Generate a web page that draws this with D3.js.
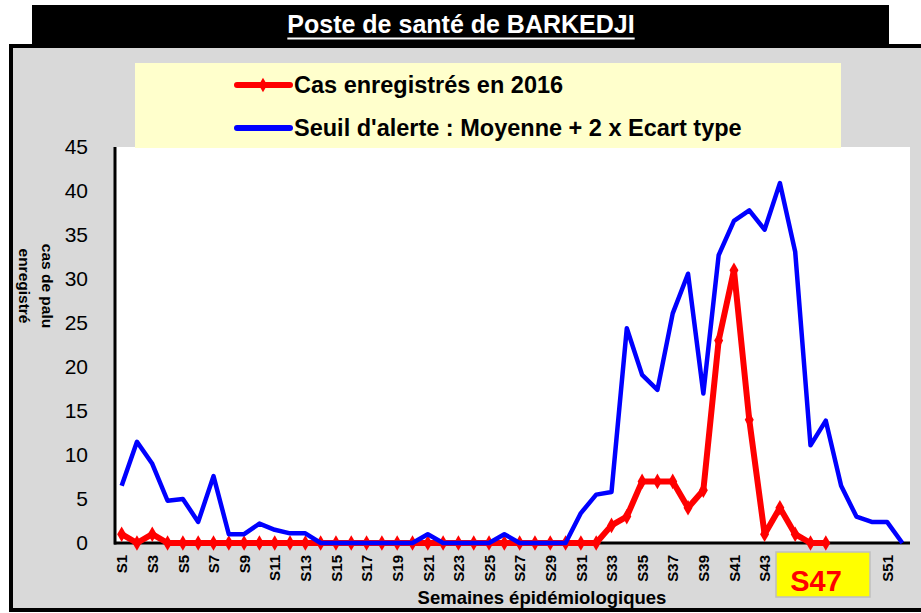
<!DOCTYPE html>
<html>
<head>
<meta charset="utf-8">
<script src="https://cdn.jsdelivr.net/npm/d3@7"></script>
<style>
  body { margin: 0; background: #fff; overflow: hidden; }
  svg { display: block; }
</style>
</head>
<body>
<div id="plot"></div>
<script>
  var semaines = d3.range(1, 53).map(function(i) { return "S" + i; });

  // Seuil d'alerte : Moyenne + 2 x Ecart type (S1..S52)
  var seuil = [6.5, 11.5, 9.0, 4.8, 5.0, 2.4, 7.6, 1.0, 1.0, 2.2, 1.5, 1.1, 1.1,
    0, 0, 0, 0, 0, 0, 0, 1.0, 0, 0, 0, 0, 1.0, 0, 0, 0, 0,
    3.4, 5.5, 5.8, 24.4, 19.1, 17.4, 26.1, 30.6, 17.0, 32.7, 36.6, 37.8, 35.6,
    40.9, 33.1, 11.1, 13.9, 6.5, 3.0, 2.4, 2.4, 0];

  // Cas enregistrés en 2016 (S1..S47)
  var cas2016 = [1, 0, 1, 0, 0, 0, 0, 0, 0, 0, 0, 0, 0, 0, 0, 0, 0, 0, 0, 0,
    0, 0, 0, 0, 0, 0, 0, 0, 0, 0, 0, 0,
    2, 3, 7, 7, 7, 4, 6, 23, 31, 14, 1, 4, 1, 0, 0];

  var yTicks = [0, 5, 10, 15, 20, 25, 30, 35, 40, 45];
  var xLabels = semaines.filter(function(d, i) { return i % 2 === 0; });
  var semaineCourante = "S47";

  var W = 921, H = 613;
  var plot = {left: 114, right: 910, top: 147, bottom: 543};
  var narrow = "'Liberation Sans Narrow', 'Arial Narrow', 'Liberation Sans', sans-serif";

  var svg = d3.select("#plot").append("svg")
    .attr("width", W).attr("height", H);

  // cadre gris
  svg.append("rect")
    .attr("x", 11).attr("y", 46).attr("width", 1000).attr("height", 564)
    .style("fill", "#d9d9d9").style("stroke", "#000").style("stroke-width", 4);

  // bandeau titre
  svg.append("rect")
    .attr("x", 32).attr("y", 5).attr("width", 857).attr("height", 41)
    .style("fill", "#000");
  var titre = svg.append("text")
    .attr("x", 461).attr("y", 33)
    .attr("text-anchor", "middle")
    .style("font-family", narrow).style("font-weight", "bold")
    .style("font-size", "25px").style("fill", "#fff")
    .text("Poste de santé de BARKEDJI");
  var tw = titre.node().getComputedTextLength();
  svg.append("line")
    .attr("x1", 461 - tw / 2).attr("x2", 461 + tw / 2)
    .attr("y1", 38.5).attr("y2", 38.5)
    .style("stroke", "#fff").style("stroke-width", 2);

  // zone de tracé
  svg.append("rect")
    .attr("x", plot.left).attr("y", plot.top)
    .attr("width", plot.right - plot.left).attr("height", plot.bottom - plot.top)
    .style("fill", "#fff");

  var x = d3.scalePoint().domain(semaines).range([plot.left, plot.right]).padding(0.5);
  var y = d3.scaleLinear().domain([0, 45]).range([plot.bottom, plot.top]);

  var yAxis = d3.axisLeft(y).tickValues(yTicks).tickSize(0).tickPadding(26);
  var gy = svg.append("g").attr("transform", "translate(" + plot.left + ",0)").call(yAxis);
  gy.select(".domain").remove();
  gy.selectAll("text")
    .style("font-family", "'Liberation Sans', sans-serif")
    .style("font-size", "21px").style("fill", "#000");

  var xAxis = d3.axisBottom(x).tickValues(xLabels).tickSize(0);
  var gx = svg.append("g").attr("transform", "translate(0," + plot.bottom + ")").call(xAxis);
  gx.select(".domain").remove();
  gx.selectAll("text")
    .attr("transform", "rotate(-90)")
    .attr("x", -12).attr("y", 0).attr("dy", "0.35em")
    .style("text-anchor", "end")
    .style("font-family", narrow).style("font-weight", "bold")
    .style("font-size", "15px").style("fill", "#000");

  // axes
  svg.append("line")
    .attr("x1", plot.left + 1).attr("x2", plot.left + 1)
    .attr("y1", plot.top).attr("y2", plot.bottom + 1.5)
    .style("stroke", "#000").style("stroke-width", 3);
  svg.append("line")
    .attr("x1", plot.left).attr("x2", plot.right)
    .attr("y1", plot.bottom).attr("y2", plot.bottom)
    .style("stroke", "#000").style("stroke-width", 3);

  // séries
  var line = d3.line()
    .defined(function(d) { return d != null; })
    .x(function(d, i) { return x(semaines[i]); })
    .y(function(d) { return y(d); });

  svg.append("path").datum(cas2016)
    .attr("d", line)
    .style("fill", "none").style("stroke", "#ff0000")
    .style("stroke-width", 6).style("stroke-linejoin", "round");
  svg.selectAll(".pt").data(cas2016).enter().append("path")
    .attr("class", "pt")
    .attr("transform", function(d, i) { return "translate(" + x(semaines[i]) + "," + y(d) + ")"; })
    .attr("d", d3.symbol().type(d3.symbolDiamond).size(70))
    .style("fill", "#ff0000");

  svg.append("path").datum(seuil)
    .attr("d", line)
    .style("fill", "none").style("stroke", "#0000ff")
    .style("stroke-width", 4.5).style("stroke-linejoin", "round");

  // légende
  svg.append("rect")
    .attr("x", 135).attr("y", 63).attr("width", 706).attr("height", 85)
    .style("fill", "#ffffcc");
  var legende = [
    {label: "Cas enregistrés en 2016", color: "#ff0000", marker: true, y: 85},
    {label: "Seuil d'alerte : Moyenne + 2 x Ecart type", color: "#0000ff", marker: false, y: 128}
  ];
  var lg = svg.selectAll(".leg").data(legende).enter().append("g").attr("class", "leg");
  lg.append("line")
    .attr("x1", 237).attr("x2", 290)
    .attr("y1", function(d) { return d.y; }).attr("y2", function(d) { return d.y; })
    .style("stroke", function(d) { return d.color; })
    .style("stroke-width", 6).style("stroke-linecap", "round");
  lg.filter(function(d) { return d.marker; }).append("path")
    .attr("transform", function(d) { return "translate(263," + d.y + ")"; })
    .attr("d", d3.symbol().type(d3.symbolDiamond).size(60))
    .style("fill", function(d) { return d.color; });
  lg.append("text")
    .attr("x", 294).attr("y", function(d) { return d.y; }).attr("dy", "0.35em")
    .style("font-family", narrow).style("font-weight", "bold")
    .style("font-size", "23.5px").style("fill", "#000")
    .text(function(d) { return d.label; });

  // titres des axes
  svg.append("text")
    .attr("transform", "translate(35,286) rotate(90)")
    .attr("text-anchor", "middle")
    .style("font-family", narrow).style("font-weight", "bold")
    .style("font-size", "15.5px").style("fill", "#000")
    .selectAll("tspan").data(["cas de palu", "enregistré"]).enter().append("tspan")
    .attr("x", 0).attr("dy", function(d, i) { return i === 0 ? "-0.45em" : "1.5em"; })
    .text(function(d) { return d; });

  svg.append("text")
    .attr("x", 542).attr("y", 604)
    .attr("text-anchor", "middle")
    .style("font-family", narrow).style("font-weight", "bold")
    .style("font-size", "18.5px").style("fill", "#000")
    .text("Semaines épidémiologiques");

  // semaine en cours
  svg.append("rect")
    .attr("x", 776).attr("y", 552).attr("width", 94).attr("height", 45)
    .style("fill", "#ffff00").style("stroke", "#bfbfbf").style("stroke-width", 1.5);
  svg.append("text")
    .attr("x", 816).attr("y", 591)
    .attr("text-anchor", "middle")
    .style("font-family", narrow).style("font-weight", "bold")
    .style("font-size", "29px").style("fill", "#ff0000")
    .text(semaineCourante);
</script>
</body>
</html>
